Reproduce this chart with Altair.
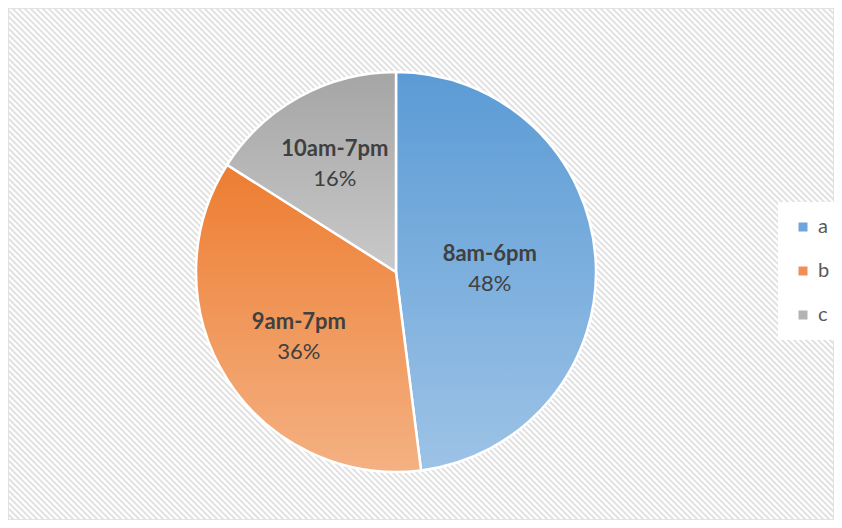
import altair as alt
import pandas as pd

# ---- data ----
categories = ["a", "b", "c"]
time_labels = ["8am-6pm", "9am-7pm", "10am-7pm"]
shares = [48, 36, 16]
pct_labels = ["48%", "36%", "16%"]

df = pd.DataFrame({"cat": categories, "label": time_labels,
                   "share": shares, "pct": pct_labels})

# ---- layout / style ----
W, H = 826, 512
CX, CY = 388, 264
R = 200
legend_colors = ["#6fa5dc", "#f08f55", "#b3b3b3"]
label_radius = {"a": 94, "b": 115, "c": 127}


def grad(top, bottom):
    return {"gradient": "linear", "x1": 0, "y1": 0, "x2": 0, "y2": 1,
            "stops": [{"offset": 0, "color": top}, {"offset": 1, "color": bottom}]}


grads = {"a": grad("#5b9bd5", "#9dc3e6"),
         "b": grad("#ed7d31", "#f4b183"),
         "c": grad("#a5a5a5", "#c9c9c9")}

# background hatch texture
hatch = alt.Chart(alt.sequence(-H, W + 6, 6, as_="k")).transform_calculate(
    k2=f"datum.k + {H}"
).mark_rule(color="#e2e2e2", strokeWidth=2, clip=True).encode(
    x=alt.X("k:Q", scale=None, axis=None),
    x2="k2:Q",
    y=alt.value(0),
    y2=alt.value(H),
)

base = alt.Chart(df)
theta = alt.Theta("share:Q", stack=True)
order = alt.Order("cat:O")

legend_arc = base.mark_arc(outerRadius=R).encode(
    theta=theta,
    order=order,
    color=alt.Color(
        "cat:N",
        scale=alt.Scale(domain=categories, range=legend_colors),
        legend=alt.Legend(
            title=None, orient="none", legendX=770, legendY=194,
            fillColor="white", padding=15, symbolType="square",
            symbolSize=81, symbolStrokeWidth=0, rowPadding=24,
            labelOffset=5, labelFontSize=20, labelColor="#595959",
            labelFont="Lato",
        ),
    ),
    x=alt.value(CX),
    y=alt.value(CY),
)

fill = (
    alt.when(alt.datum.cat == "a").then(alt.value(grads["a"]))
    .when(alt.datum.cat == "b").then(alt.value(grads["b"]))
    .otherwise(alt.value(grads["c"]))
)

grad_arc = base.mark_arc(outerRadius=R, stroke="white", strokeWidth=2.5).encode(
    theta=theta,
    order=order,
    fill=fill,
    x=alt.value(CX),
    y=alt.value(CY),
)

lr_expr = (f"datum.cat == 'a' ? {label_radius['a']} : "
           f"datum.cat == 'b' ? {label_radius['b']} : {label_radius['c']}")
lab = base.transform_window(
    cum="sum(share)", sort=[alt.SortField("cat")], frame=[None, 0]
).transform_joinaggregate(
    total="sum(share)"
).transform_calculate(
    lr=lr_expr,
    mid="(datum.cum - datum.share / 2) / datum.total * 2 * PI",
).transform_calculate(
    lx=f"{CX} + datum.lr * sin(datum.mid)",
    ly=f"{CY} - datum.lr * cos(datum.mid)",
)

bold = lab.mark_text(font="Lato", fontSize=22, fontWeight="bold",
                     color="#404040", dy=-12, baseline="middle").encode(
    x=alt.X("lx:Q", scale=None, axis=None),
    y=alt.Y("ly:Q", scale=None, axis=None),
    text="label:N",
)
pct = lab.mark_text(font="Lato", fontSize=22, color="#404040",
                    dy=18, baseline="middle").encode(
    x=alt.X("lx:Q", scale=None, axis=None),
    y=alt.Y("ly:Q", scale=None, axis=None),
    text="pct:N",
)

chart = alt.layer(hatch, legend_arc, grad_arc, bold, pct).properties(
    width=W, height=H, padding=0, autosize="none", background="white"
).configure_view(stroke="#d9d9d9", strokeWidth=1.5)

chart.save("out.html", embed_options={"renderer": "svg", "actions": False})
